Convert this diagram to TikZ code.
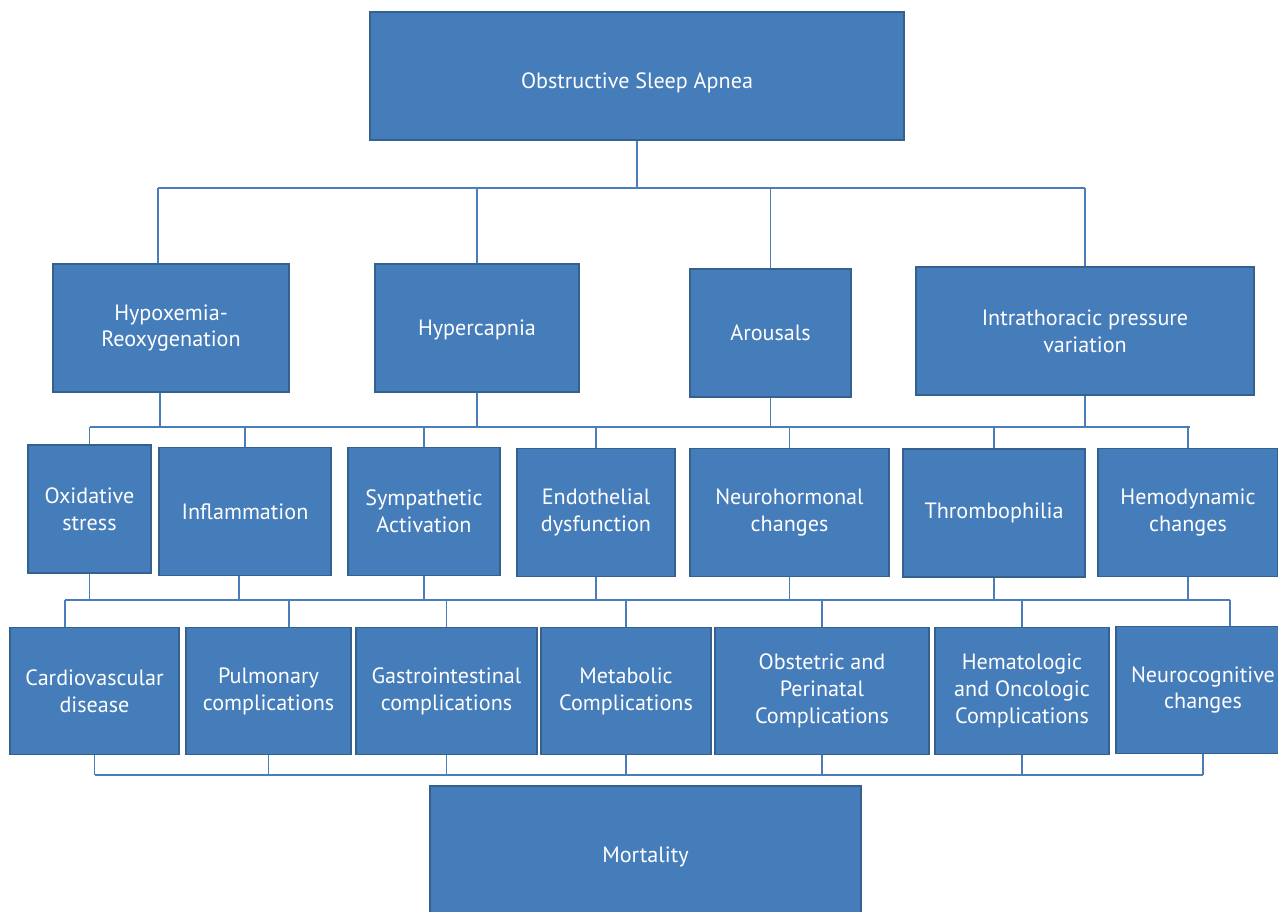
\documentclass[tikz,border=0pt]{standalone}
\usepackage{fontspec}
\setmainfont{PT Sans}
\usepackage{tikz}
\usepackage{xcolor}
\definecolor{boxblue}{HTML}{457CBA}
\definecolor{boxedge}{HTML}{35618F}
\definecolor{linkblue}{HTML}{4A7EBB}

\begin{document}
\begin{tikzpicture}[x=0.02cm,y=-0.02cm,
    box/.style={draw=boxedge,line width=1.1pt,fill=boxblue,text=white,align=center,
      font=\fontsize{12.6}{15.3}\selectfont,inner sep=0pt,minimum height=2.56cm},
    link/.style={draw=linkblue,line width=1pt}]%
          \useasboundingbox (0,0) rectangle (1278,912);%
          % top
          \node [box,minimum width=10.68cm,text height=0.6cm,text depth=0.1cm] (osa) at (637,76) {Obstructive Sleep Apnea};%
          % mechanisms
          \node [box,minimum width=4.72cm] (hypox) at (171,328) {Hypoxemia-\\Reoxygenation};%
          \node [box,minimum width=4.08cm,text height=0.5cm,text depth=0.18cm] (hypercap) at (477,328) {Hypercapnia};%
          \node [box,minimum width=3.22cm] (arous) at (770.5,333) {Arousals};%
          \node [box,minimum width=6.76cm] (intra) at (1085,331) {Intrathoracic pressure\\variation};%
          % pathways
          \node [box,minimum width=2.46cm] (oxid) at (89.5,509) {Oxidative\\stress};%
          \node [box,minimum width=3.44cm] (inflam) at (245,511.5) {Inflammation};%
          \node [box,minimum width=3.04cm] (symp) at (424,511.5) {Sympathetic\\Activation};%
          \node [box,minimum width=3.16cm] (endo) at (596,512.5) {Endothelial\\dysfunction};%
          \node [box,minimum width=3.98cm] (neuro) at (789.5,512.5) {Neurohormonal\\changes};%
          \node [box,minimum width=3.64cm] (thromb) at (994,513) {Thrombophilia};%
          \node [box,minimum width=3.6cm] (hemo) at (1188,512.5) {Hemodynamic\\changes};%
          % consequences
          \node [box,minimum width=3.38cm,minimum height=2.54cm] (cardio) at (94.5,691) {Cardiovascular\\disease};%
          \node [box,minimum width=3.3cm,minimum height=2.54cm] (pulm) at (268.5,691) {Pulmonary\\complications};%
          \node [box,minimum width=3.62cm,minimum height=2.54cm] (gastro) at (446.5,691) {Gastrointestinal\\complications};%
          \node [box,minimum width=3.4cm,minimum height=2.54cm] (metab) at (626,691) {Metabolic\\Complications};%
          \node [box,minimum width=4.28cm,minimum height=2.54cm] (obst) at (822,691) {Obstetric and\\Perinatal\\Complications};%
          \node [box,minimum width=3.48cm,minimum height=2.54cm] (hemat) at (1022,691) {Hematologic\\and Oncologic\\Complications};%
          \node [box,minimum width=3.48cm,minimum height=2.54cm] (ncog) at (1203,690) {Neurocognitive\\changes};%
          \node [box,minimum width=8.62cm,minimum height=2.84cm] (mort) at (645.5,857) {Mortality};%
          % bus ends
          \coordinate (b1l) at (158,188);%
          \coordinate (b1r) at (1085,188);%
          \coordinate (b2l) at (90,427);%
          \coordinate (b2r) at (1190,427);%
          \coordinate (b3l) at (65,600);%
          \coordinate (b3r) at (1230,600);%
          \coordinate (b4l) at (95,775);%
          \coordinate (b4r) at (1203,775);%
          \draw [link] (b1l) to (b1r);%
          \draw [link] (b2l) to (b2r);%
          \draw [link] (b3l) to (b3r);%
          \draw [link] (b4l) to (b4r);%
          % level 1
          \draw [link] (osa.south) to (osa.south |- b1l);%
          \draw [link] ([xshift=-0.26cm]hypox.north) to ([xshift=-0.26cm]hypox.north |- b1l);%
          \foreach \n in {hypercap,arous,intra} {%
            \draw [link] (\n.north) to (\n.north |- b1l);%
          }%
          % level 2
          \draw [link] ([xshift=-0.22cm]hypox.south) to ([xshift=-0.22cm]hypox.south |- b2l);%
          \foreach \n in {hypercap,arous,intra} {%
            \draw [link] (\n.south) to (\n.south |- b2l);%
          }%
          \foreach \n in {oxid,inflam,symp,endo,neuro,thromb,hemo} {%
            \draw [link] (\n.north) to (\n.north |- b2l);%
          }%
          % level 3
          \draw [link] ([xshift=-0.12cm]inflam.south) to ([xshift=-0.12cm]inflam.south |- b3l);%
          \foreach \n in {oxid,symp,endo,neuro,thromb,hemo} {%
            \draw [link] (\n.south) to (\n.south |- b3l);%
          }%
          \draw [link] ([xshift=-0.59cm]cardio.north) to ([xshift=-0.59cm]cardio.north |- b3l);%
          \draw [link] ([xshift=0.41cm]pulm.north) to ([xshift=0.41cm]pulm.north |- b3l);%
          \draw [link] ([xshift=0.54cm]ncog.north) to ([xshift=0.54cm]ncog.north |- b3l);%
          \foreach \n in {gastro,metab,obst,hemat} {%
            \draw [link] (\n.north) to (\n.north |- b3l);%
          }%
          % level 4
          \foreach \n in {cardio,pulm,gastro,metab,obst,hemat,ncog} {%
            \draw [link] (\n.south) to (\n.south |- b4l);%
          }%
        \end{tikzpicture}
\end{document}
